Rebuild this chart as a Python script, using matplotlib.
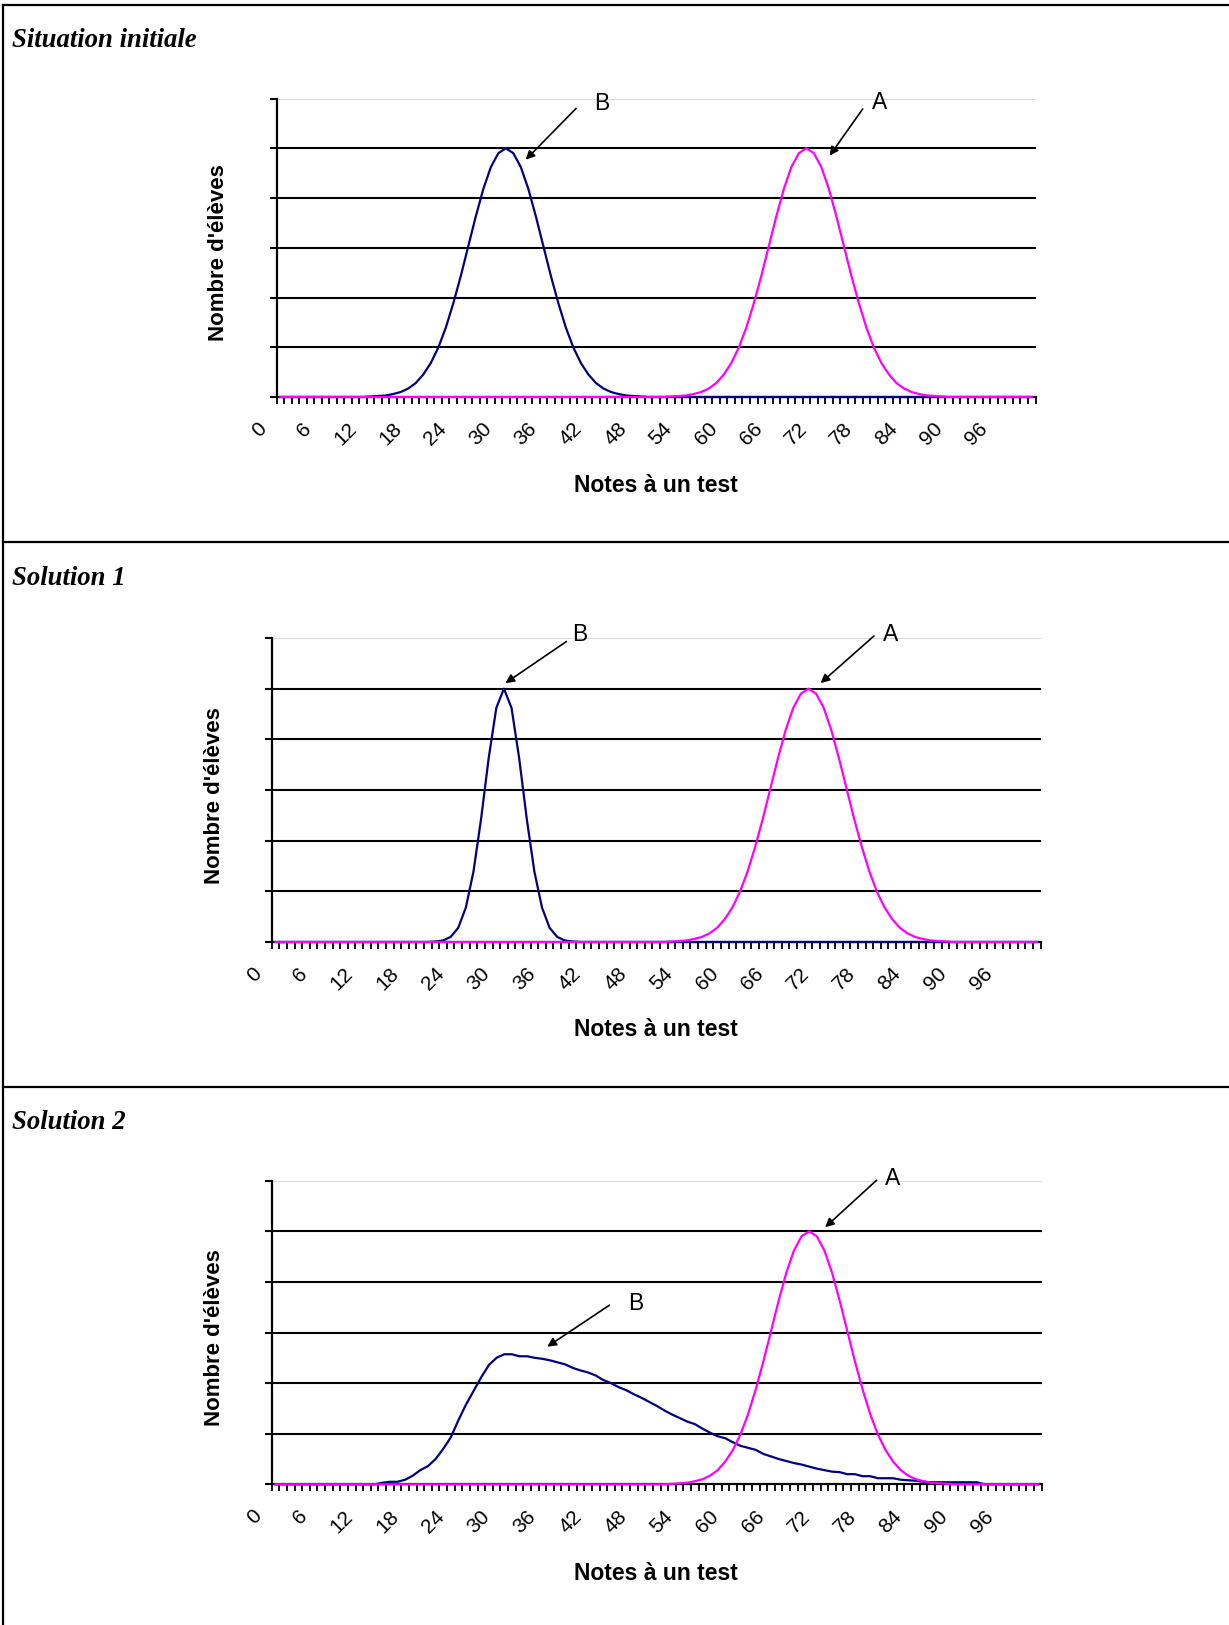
import matplotlib
matplotlib.use("Agg")
import matplotlib.pyplot as plt
from matplotlib.lines import Line2D
import matplotlib.transforms as mtransforms

# ---------------- data ----------------
scores = list(range(0, 101))
tick_positions = [0, 6, 12, 18, 24, 30, 36, 42, 48, 54, 60, 66, 72, 78, 84, 90, 96]
tick_labels = ["0", "6", "12", "18", "24", "30", "36", "42", "48", "54",
               "60", "66", "72", "78", "84", "90", "96"]

panel_titles = ["Situation initiale", "Solution 1", "Solution 2"]
x_title = "Notes à un test"
y_title = "Nombre d'élèves"

group_a = [
    0, 0, 0, 0, 0, 0, 0, 0, 0, 0,
    0, 0, 0, 0, 0, 0, 0, 0, 0, 0,
    0, 0, 0, 0, 0, 0, 0, 0, 0, 0,
    0, 0, 0, 0, 0, 0, 0, 0, 0, 0,
    0, 0, 0, 0, 0, 0, 0, 0, 0, 0,
    0, 0, 0.01, 0.02, 0.03, 0.06, 0.10, 0.17, 0.28, 0.45,
    0.68, 0.99, 1.39, 1.88, 2.43, 3.03, 3.63, 4.18, 4.62, 4.90,
    5.00, 4.90, 4.62, 4.18, 3.63, 3.03, 2.43, 1.88, 1.39, 0.99,
    0.68, 0.45, 0.28, 0.17, 0.10, 0.06, 0.03, 0.02, 0.01, 0,
    0, 0, 0, 0, 0, 0, 0, 0, 0, 0,
    0,
]

group_b_initial = [
    0, 0, 0, 0, 0, 0, 0, 0, 0, 0,
    0, 0, 0.01, 0.02, 0.03, 0.06, 0.10, 0.17, 0.28, 0.45,
    0.68, 0.99, 1.39, 1.88, 2.43, 3.03, 3.63, 4.18, 4.62, 4.90,
    5.00, 4.90, 4.62, 4.18, 3.63, 3.03, 2.43, 1.88, 1.39, 0.99,
    0.68, 0.45, 0.28, 0.17, 0.10, 0.06, 0.03, 0.02, 0.01, 0,
    0, 0, 0, 0, 0, 0, 0, 0, 0, 0,
    0, 0, 0, 0, 0, 0, 0, 0, 0, 0,
    0, 0, 0, 0, 0, 0, 0, 0, 0, 0,
    0, 0, 0, 0, 0, 0, 0, 0, 0, 0,
    0, 0, 0, 0, 0, 0, 0, 0, 0, 0,
    0,
]

group_b_solution1 = [
    0, 0, 0, 0, 0, 0, 0, 0, 0, 0,
    0, 0, 0, 0, 0, 0, 0, 0, 0, 0,
    0, 0.01, 0.03, 0.10, 0.28, 0.68, 1.39, 2.43, 3.63, 4.62,
    5.00, 4.62, 3.63, 2.43, 1.39, 0.68, 0.28, 0.10, 0.03, 0.01,
    0, 0, 0, 0, 0, 0, 0, 0, 0, 0,
    0, 0, 0, 0, 0, 0, 0, 0, 0, 0,
    0, 0, 0, 0, 0, 0, 0, 0, 0, 0,
    0, 0, 0, 0, 0, 0, 0, 0, 0, 0,
    0, 0, 0, 0, 0, 0, 0, 0, 0, 0,
    0, 0, 0, 0, 0, 0, 0, 0, 0, 0,
    0,
]

group_b_solution2 = [
    0, 0, 0, 0, 0, 0, 0, 0, 0, 0,
    0, 0, 0, 0, 0.03, 0.05, 0.05, 0.09, 0.17, 0.28,
    0.36, 0.50, 0.70, 0.93, 1.27, 1.58, 1.85, 2.12, 2.36, 2.50,
    2.57, 2.57, 2.53, 2.53, 2.50, 2.48, 2.45, 2.41, 2.37, 2.30,
    2.25, 2.21, 2.15, 2.06, 2.00, 1.92, 1.86, 1.78, 1.71, 1.63,
    1.55, 1.46, 1.38, 1.31, 1.24, 1.19, 1.10, 1.02, 0.95, 0.91,
    0.83, 0.76, 0.72, 0.68, 0.60, 0.55, 0.50, 0.46, 0.42, 0.39,
    0.35, 0.31, 0.28, 0.25, 0.24, 0.20, 0.20, 0.16, 0.16, 0.12,
    0.12, 0.12, 0.09, 0.08, 0.07, 0.05, 0.04, 0.04, 0.04, 0.04,
    0.04, 0.04, 0.04, 0, 0, 0, 0, 0, 0, 0,
    0,
]

# ---------------- layout ----------------
W, H = 1229, 1625
fig = plt.figure(figsize=(W / 100, H / 100), dpi=100)

SANS = ["Liberation Sans", "DejaVu Sans"]
SERIF = ["Liberation Serif", "DejaVu Serif"]
NAVY = "#000080"
MAGENTA = "#ff00ff"


def fx(px):
    return px / W


def fy(py):
    return 1 - py / H


# frame lines
LW_FRAME = 1.6
for yy in (5.2, 542.0, 1087.0):
    fig.add_artist(Line2D([fx(3), 1.0], [fy(yy), fy(yy)], color="black", lw=LW_FRAME))
fig.add_artist(Line2D([fx(3.1), fx(3.1)], [fy(5.2), 0.0], color="black", lw=LW_FRAME))

panels = [
    dict(box=(276.7, 98.5, 1035.5, 397.0), b=group_b_initial, title_base=46.7,
         ylab=(219, 253), xlab=(656, 485),
         ann=[("B", (42.8, 5.90), (39.35, 5.80), (32.65, 4.77)),
              ("A", (79.7, 5.92), (77.5, 5.79), (73.1, 4.85))]),
    dict(box=(271.7, 638.0, 1040.7, 942.0), b=group_b_solution1, title_base=585.3,
         ylab=(214.5, 796), xlab=(656, 1030),
         ann=[("B", (40.0, 6.06), (38.2, 5.93), (30.2, 5.11)),
              ("A", (80.8, 6.06), (78.6, 6.04), (71.6, 5.11))]),
    dict(box=(271.7, 1180.7, 1041.7, 1484.3), b=group_b_solution2, title_base=1129.3,
         ylab=(214.5, 1338), xlab=(656, 1573),
         ann=[("A", (80.9, 6.05), (78.85, 6.01), (72.1, 5.08)),
              ("B", (47.3, 3.58), (43.8, 3.54), (35.65, 2.72))]),
]

for title, p in zip(panel_titles, panels):
    l, t, r, b = p["box"]
    ax = fig.add_axes([fx(l), fy(b), fx(r) - fx(l), (b - t) / H])
    ax.set_xlim(-0.5, 100.5)
    ax.set_ylim(0, 6)
    ax.patch.set_alpha(0)

    for g in range(1, 6):
        ax.axhline(g, color="black", lw=1.5, zorder=1)
    ax.axhline(6, color="#d4d4d4", lw=1.2, zorder=1)

    ax.plot(scores, p["b"], color=NAVY, lw=1.6, zorder=3, clip_on=False)
    ax.plot(scores, group_a, color=MAGENTA, lw=1.6, zorder=4, clip_on=False)

    for s in ("top", "right"):
        ax.spines[s].set_visible(False)
    ax.spines["left"].set_linewidth(1.6)
    ax.spines["bottom"].set_linewidth(1.6)

    ax.set_yticks(range(0, 7))
    ax.set_yticklabels([])
    ax.tick_params(axis="y", direction="out", length=5, width=1.5)
    ax.set_xticks([i - 0.5 for i in range(0, 102)])
    ax.set_xticklabels([])
    ax.tick_params(axis="x", direction="out", length=5, width=1.3)

    lab_tr = mtransforms.offset_copy(ax.transData, fig=fig, x=-17, y=-29, units="dots")
    for pos, lab in zip(tick_positions, tick_labels):
        ax.text(pos, 0, lab, transform=lab_tr, rotation=45, rotation_mode="anchor",
                ha="right", va="center", fontsize=15, family=SANS)

    fig.text(fx(p["xlab"][0]), fy(p["xlab"][1]), x_title, ha="center", va="center",
             fontsize=16.5, fontweight="bold", family=SANS)
    fig.text(fx(p["ylab"][0]), fy(p["ylab"][1]), y_title, ha="center", va="center",
             rotation=90, fontsize=16, fontweight="bold", family=SANS)
    fig.text(fx(12.4), fy(p["title_base"]), title, ha="left", va="baseline",
             fontsize=19.3, fontweight="bold", fontstyle="italic", family=SERIF)

    for letter, txt_xy, start, tip in p["ann"]:
        ax.annotate("", xy=tip, xytext=start,
                    arrowprops=dict(arrowstyle="-|>", color="black", lw=1.2,
                                    mutation_scale=13, shrinkA=0, shrinkB=0),
                    zorder=5)
        ax.text(txt_xy[0], txt_xy[1], letter, ha="center", va="center",
                fontsize=16.5, family=SANS, clip_on=False)

fig.savefig("out.png", dpi=100)
